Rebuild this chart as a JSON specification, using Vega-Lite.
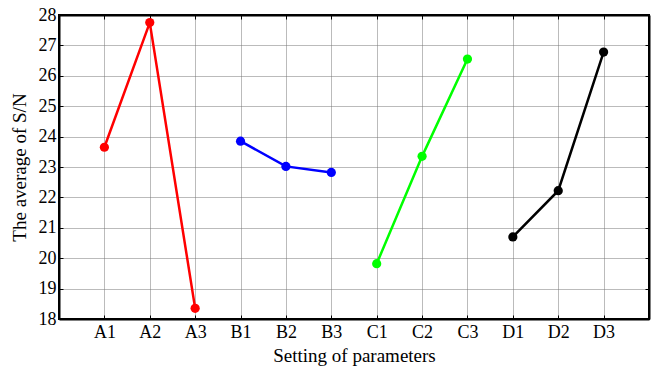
{
  "$schema": "https://vega.github.io/schema/vega-lite/v6.json",
  "width": 590,
  "height": 304,
  "autosize": {"type": "none"},
  "padding": {"left": 59, "top": 15, "right": 2, "bottom": 51},
  "background": "white",
  "config": {
    "font": "Liberation Serif, Times New Roman, serif",
    "view": {"stroke": "black", "strokeWidth": 2},
    "axis": {
      "labelFont": "Liberation Serif, Times New Roman, serif",
      "titleFont": "Liberation Serif, Times New Roman, serif",
      "labelFontSize": 18,
      "titleFontSize": 19,
      "titleFontWeight": "normal",
      "labelColor": "black",
      "titleColor": "black",
      "domainColor": "black",
      "domainWidth": 2,
      "tickColor": "black",
      "tickSize": -4,
      "gridColor": "#777777",
      "gridDash": [1, 1],
      "gridWidth": 1,
      "gridOpacity": 1
    }
  },
  "data": {
    "values": [
      {"param": "A1", "group": "A", "sn": 23.65},
      {"param": "A2", "group": "A", "sn": 27.75},
      {"param": "A3", "group": "A", "sn": 18.35},
      {"param": "B1", "group": "B", "sn": 23.85},
      {"param": "B2", "group": "B", "sn": 23.02},
      {"param": "B3", "group": "B", "sn": 22.82},
      {"param": "C1", "group": "C", "sn": 19.82},
      {"param": "C2", "group": "C", "sn": 23.35},
      {"param": "C3", "group": "C", "sn": 26.55},
      {"param": "D1", "group": "D", "sn": 20.7},
      {"param": "D2", "group": "D", "sn": 22.22},
      {"param": "D3", "group": "D", "sn": 26.78}
    ]
  },
  "layer": [
    {
      "mark": {"type": "line", "strokeWidth": 2.5, "point": {"filled": true, "size": 85, "opacity": 1}},
      "encoding": {
        "x": {
          "field": "param", "type": "ordinal",
          "scale": {"type": "point", "padding": 1},
          "sort": null,
          "axis": {"title": "Setting of parameters", "labelAngle": 0, "labelPadding": 8, "titlePadding": 5, "grid": true}
        },
        "y": {
          "field": "sn", "type": "quantitative",
          "scale": {"domain": [18, 28], "nice": false, "zero": false},
          "axis": {"title": "The average of S/N", "values": [18,19,20,21,22,23,24,25,26,27,28], "labelPadding": 7, "titlePadding": 9, "grid": true}
        },
        "color": {
          "field": "group", "type": "nominal",
          "scale": {"domain": ["A","B","C","D"], "range": ["#ff0000", "#0000ff", "#00ff00", "#000000"]},
          "legend": null
        }
      }
    },
    {
      "mark": {"type": "point", "opacity": 0},
      "encoding": {
        "x": {"field": "param", "type": "ordinal", "sort": null,
              "axis": {"orient": "top", "labels": false, "title": null, "grid": false, "domain": true}},
        "y": {"field": "sn", "type": "quantitative",
              "axis": {"orient": "right", "labels": false, "title": null, "grid": false, "values": [18,19,20,21,22,23,24,25,26,27,28]}}
      }
    }
  ],
  "resolve": {"axis": {"x": "independent", "y": "independent"}}
}
